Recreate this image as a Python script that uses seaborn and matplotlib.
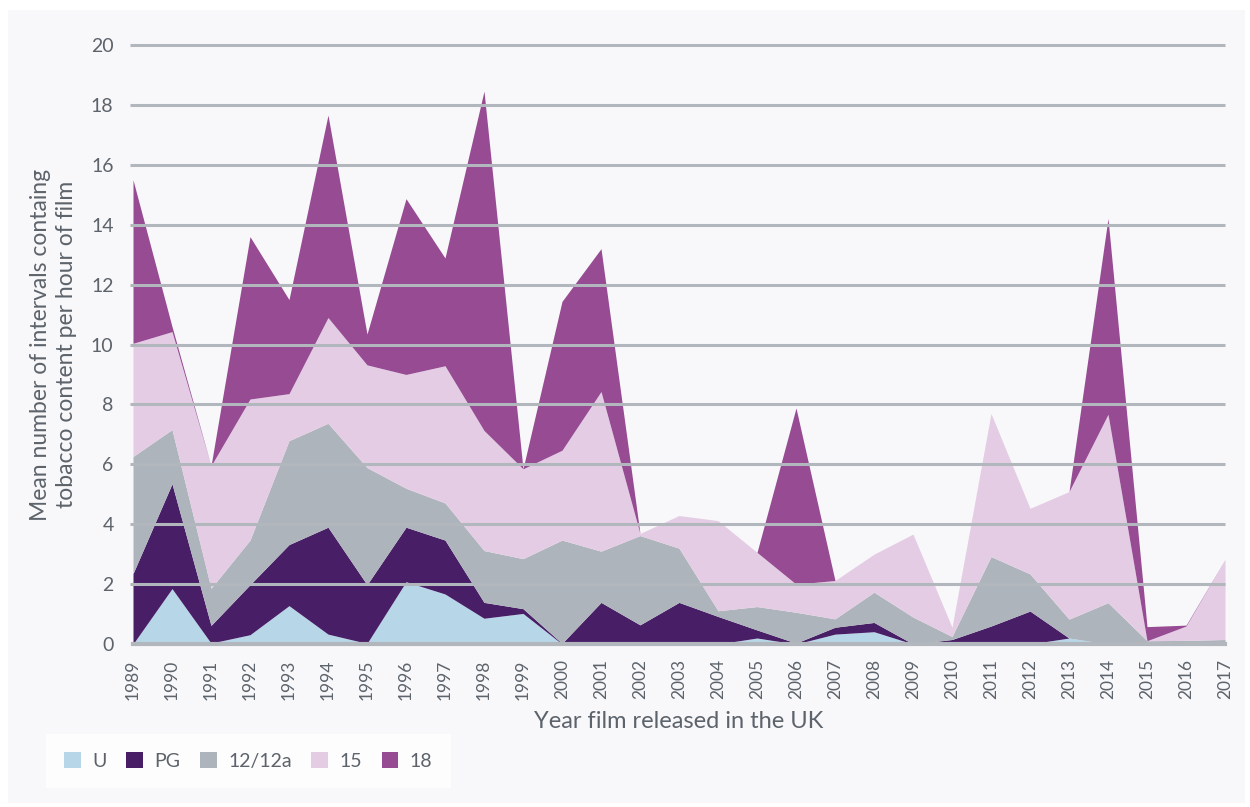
import numpy as np
import pandas as pd
import matplotlib
matplotlib.use("Agg")
import matplotlib.pyplot as plt
from matplotlib.patches import Rectangle, Patch
import seaborn as sns

# data (stacked layers, per rating)
years = list(range(1989, 2018))
u_vals = [0, 1.85, 0.03, 0.31, 1.28, 0.33, 0.02, 2.08, 1.67, 0.86, 1.02, 0, 0, 0, 0,
          0, 0.2, 0, 0.33, 0.41, 0, 0, 0, 0, 0.2, 0, 0, 0, 0]
pg_vals = [2.35, 3.5, 0.59, 1.67, 2.04, 3.57, 1.96, 1.82, 1.8, 0.53, 0.16, 0.02, 1.39, 0.64, 1.39,
           0.92, 0.27, 0.03, 0.23, 0.31, 0, 0.15, 0.6, 1.1, 0, 0, 0, 0, 0]
r12_vals = [3.91, 1.81, 1.24, 1.49, 3.47, 3.47, 3.91, 1.3, 1.24, 1.73, 1.67, 3.45, 1.71, 2.98, 1.81,
            0.19, 0.78, 1.03, 0.28, 1.01, 0.9, 0.1, 2.32, 1.24, 0.63, 1.38, 0.11, 0.12, 0.15]
r15_vals = [3.78, 3.27, 4.09, 4.71, 1.57, 3.53, 3.43, 3.8, 4.58, 4.01, 3.0, 3.0, 5.33, 0.07, 1.09,
            3.01, 1.81, 0.94, 1.28, 1.27, 2.77, 0.31, 4.78, 2.19, 4.26, 6.29, 0, 0.48, 2.68]
r18_vals = [5.46, 0.17, 0, 5.42, 3.14, 6.76, 1.03, 5.87, 3.6, 11.33, 0, 4.97, 4.77, 0, 0,
            0, 0, 5.88, 0, 0, 0, 0, 0, 0, 0, 6.54, 0.47, 0.03, 0]
ratings = ["U", "PG", "12/12a", "15", "18"]
colors = ["#b7d7e8", "#481e66", "#aeb4bb", "#e4cde4", "#964b93"]

df = pd.DataFrame({"U": u_vals, "PG": pg_vals, "12/12a": r12_vals,
                   "15": r15_vals, "18": r18_vals}, index=years)

sns.set_theme(style="white")
plt.rcParams['font.family'] = ['Lato', 'DejaVu Sans']
txt = "#5c636b"
grid_c = "#b2b6bd"
panel = "#f8f7fa"

fig = plt.figure(figsize=(12.5, 8.07), dpi=100)
fig.patch.set_facecolor("white")
fig.add_artist(Rectangle((8 / 1250, 1 - 803 / 807), 1237 / 1250, 793 / 807,
                         transform=fig.transFigure, facecolor=panel, edgecolor="none", zorder=0))

ax = fig.add_axes([133 / 1250, 1 - 644 / 807, (1225 - 133) / 1250, (644 - 45) / 807])
ax.set_facecolor(panel)
ax.patch.set_alpha(0)

ax.stackplot(df.index, [df[r] for r in ratings], colors=colors, labels=ratings,
             linewidth=0, zorder=2)

ax.set_xlim(1989, 2017)
ax.set_ylim(0, 20)
yt = np.arange(0, 21, 2)
ax.hlines(yt[1:], 1988.92, 2017, colors=grid_c, linewidth=2.2, zorder=3, clip_on=False)
ax.set_yticks(yt)
ax.set_yticklabels([str(v) for v in yt], color=txt, fontsize=14)
ax.tick_params(axis="y", length=0, pad=14)

ax.set_xticks(years)
ax.set_xticklabels([str(y) for y in years], rotation=90, color=txt, fontsize=12.5)
ax.tick_params(axis="x", length=8, width=2, color=grid_c, pad=3)

for s in ["top", "right", "left"]:
    ax.spines[s].set_visible(False)
ax.spines["bottom"].set_color(grid_c)
ax.spines["bottom"].set_linewidth(3)
ax.spines["bottom"].set_zorder(4)

ax.set_xlabel("Year film released in the UK", color=txt, fontsize=17, labelpad=8)
ax.set_ylabel("Mean number of intervals containg\ntobacco content per hour of film",
              color=txt, fontsize=16.5, labelpad=10, linespacing=1.3)

handles = [Patch(facecolor=c, edgecolor="none") for c in colors]
leg = fig.legend(handles, ratings, loc="lower left", bbox_to_anchor=(46 / 1250, 1 - 788 / 807),
                 borderaxespad=0, ncol=5, frameon=True, fancybox=False, fontsize=14,
                 handlelength=0.85, handleheight=0.85, handletextpad=0.6, columnspacing=1.0,
                 borderpad=0.95, labelcolor=txt)
leg.get_frame().set_facecolor("white")
leg.get_frame().set_edgecolor("none")

fig.savefig("out.png", dpi=100, facecolor=fig.get_facecolor())
